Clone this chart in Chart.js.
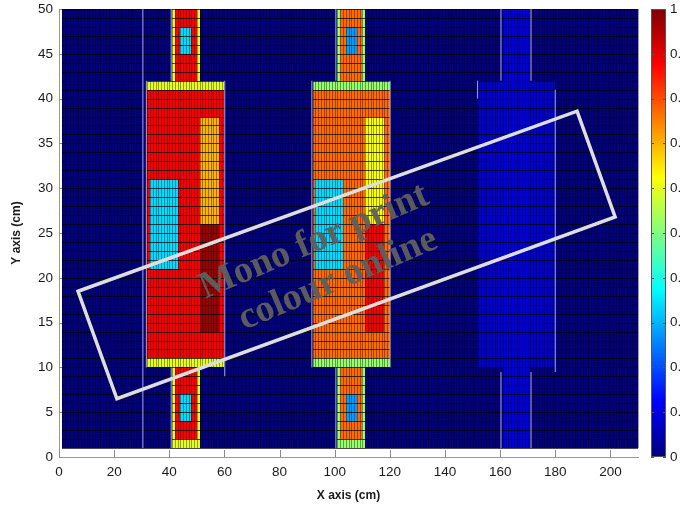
<!DOCTYPE html>
<html>
<head>
<meta charset="utf-8">
<script src="https://cdn.jsdelivr.net/npm/chart.js@4.4.0/dist/chart.umd.min.js"></script>
<style>
    html, body { margin: 0; padding: 0; background: #fff; }
    #wrap { width: 681px; height: 509px; }
</style>
</head>
<body>
<div id="wrap"><canvas id="chart_canvas" width="681" height="509"></canvas></div>
<script>
const xTicks = [0, 20, 40, 60, 80, 100, 120, 140, 160, 180, 200];
const yTicks = [0, 5, 10, 15, 20, 25, 30, 35, 40, 45, 50];
const cbTicks = [0, 0.1, 0.2, 0.3, 0.4, 0.5, 0.6, 0.7, 0.8, 0.9, 1];
const cbLabels = ['0', '0.1', '0.2', '0.3', '0.4', '0.5', '0.6', '0.7', '0.8', '0.9', '1'];

// meshed field, 1 cm cells, value 0 everywhere else
const fieldX = [1, 210];
const fieldY = [1, 50];
const fieldBase = 0;

// [x0, x1, y0, y1, value] - later rects paint over earlier ones
const column1 = [
    [41, 51, 1, 50, 0.6], [42, 50, 2, 50, 0.88],
    [32, 60, 10, 42, 0.6], [32, 60, 11, 41, 0.88],
    [33, 43, 21, 31, 0.34], [51, 58, 26, 38, 0.7], [51, 58, 14, 26, 0.97],
    [44, 48, 45, 48, 0.34], [44, 48, 4, 7, 0.34]
];
const column2 = [
    [101, 111, 1, 50, 0.52], [102, 110, 2, 50, 0.77],
    [92, 120, 10, 42, 0.52], [92, 120, 11, 41, 0.77],
    [93, 103, 21, 31, 0.34], [111, 118, 26, 38, 0.62], [111, 118, 14, 26, 0.88],
    [104, 108, 45, 48, 0.28], [104, 108, 4, 7, 0.28]
];
const column3 = [
    [161, 171, 1, 50, 0.09],
    [152, 180, 10, 42, 0.08], [161, 171, 10, 42, 0.09]
];

// faint mesh outlines [x0, y0, x1, y1]
const outlines = [
    [30.4, 1, 30.4, 50],
    [40.7, 42, 40.7, 50], [40.7, 1, 40.7, 10], [31.7, 10, 31.7, 42], [60.1, 9, 60.1, 42],
    [100.4, 42, 100.4, 50], [100.4, 1, 100.4, 10], [91.7, 10, 91.7, 42], [120.1, 10, 120.1, 42],
    [160.3, 42, 160.3, 50], [171.2, 42, 171.2, 50], [160.3, 1, 160.3, 9.5], [171.2, 1, 171.2, 9.5],
    [180, 9.5, 180, 41], [151.8, 40, 151.8, 42]
];

// watermark box corners and text anchors, in axis units
const stampBox = [[6.9, 18.5], [187.9, 38.6], [201.7, 26.8], [21.0, 6.5]];
const stampLines = ['Mono for print', 'colour online'];
const stampAnchors = [[92.5, 24.0], [101.2, 19.8]];

function clamp(v) {
    return Math.max(0, Math.min(1, v));
}

function jet(v) {
    const r = clamp(Math.min(4 * v - 1.5, -4 * v + 4.5));
    const g = clamp(Math.min(4 * v - 0.5, -4 * v + 3.5));
    const b = clamp(Math.min(4 * v + 0.5, -4 * v + 2.5));
    return `rgb(${Math.round(r * 255)}, ${Math.round(g * 255)}, ${Math.round(b * 255)})`;
}

function fillCells(ctx, xs, ys, rect) {
    const l = Math.round(xs.getPixelForValue(rect[0]));
    const r = Math.round(xs.getPixelForValue(rect[1]));
    const t = Math.round(ys.getPixelForValue(rect[3]));
    const b = Math.round(ys.getPixelForValue(rect[2]));
    ctx.fillStyle = jet(rect[4]);
    ctx.fillRect(l, t, r - l, b - t);
}

// vertical axes: no extra room above/below the plot for their labels
function noEdgePadding(s) {
    s.paddingTop = 0;
    s.paddingBottom = 0;
}

const heatmapPlugin = {
    id: 'heatmap',
    beforeDatasetsDraw(chart) {
        const ctx = chart.ctx;
        const xs = chart.scales.x;
        const ys = chart.scales.y;
        ctx.save();

        fillCells(ctx, xs, ys, [fieldX[0], fieldX[1], fieldY[0], fieldY[1], fieldBase]);
        [column1, column2, column3].forEach(col => {
            col.forEach(rect => fillCells(ctx, xs, ys, rect));
        });

        const top = Math.round(ys.getPixelForValue(fieldY[1]));
        const bottom = Math.round(ys.getPixelForValue(fieldY[0]));
        const left = Math.round(xs.getPixelForValue(fieldX[0]));
        const right = Math.round(xs.getPixelForValue(fieldX[1]));

        // cell edges
        ctx.lineWidth = 1;
        ctx.strokeStyle = 'rgba(0, 0, 0, 0.38)';
        ctx.beginPath();
        for (let x = fieldX[0]; x <= fieldX[1]; x++) {
            const px = Math.round(xs.getPixelForValue(x)) + 0.5;
            ctx.moveTo(px, top);
            ctx.lineTo(px, bottom);
        }
        ctx.stroke();
        ctx.strokeStyle = 'rgba(0, 0, 0, 0.7)';
        ctx.beginPath();
        for (let y = fieldY[0]; y <= fieldY[1]; y++) {
            const py = Math.round(ys.getPixelForValue(y)) + 0.5;
            ctx.moveTo(left, py);
            ctx.lineTo(right, py);
        }
        ctx.stroke();

        ctx.strokeStyle = 'rgba(190, 190, 240, 0.75)';
        ctx.lineWidth = 1.2;
        outlines.forEach(seg => {
            ctx.beginPath();
            ctx.moveTo(xs.getPixelForValue(seg[0]), ys.getPixelForValue(seg[1]));
            ctx.lineTo(xs.getPixelForValue(seg[2]), ys.getPixelForValue(seg[3]));
            ctx.stroke();
        });
        ctx.restore();
    },
    afterDraw(chart) {
        const ctx = chart.ctx;
        const xs = chart.scales.x;
        const ys = chart.scales.y;
        const cb = chart.scales.cb;
        ctx.save();

        // inward tick marks
        ctx.strokeStyle = '#8a8a8a';
        ctx.lineWidth = 1;
        ctx.beginPath();
        xTicks.forEach(v => {
            const px = Math.round(xs.getPixelForValue(v)) + 0.5;
            ctx.moveTo(px, ys.bottom);
            ctx.lineTo(px, ys.bottom - 7);
        });
        yTicks.forEach(v => {
            const py = Math.round(ys.getPixelForValue(v)) + 0.5;
            ctx.moveTo(xs.left, py);
            ctx.lineTo(xs.left + 3, py);
        });
        ctx.stroke();

        // colour bar
        const barL = cb.left + 13;
        const barW = 15;
        const barT = cb.getPixelForValue(1);
        const barB = cb.getPixelForValue(0);
        const grad = ctx.createLinearGradient(0, barB, 0, barT);
        [0, 0.125, 0.375, 0.625, 0.875, 1].forEach(s => grad.addColorStop(s, jet(s)));
        ctx.fillStyle = grad;
        ctx.fillRect(barL, barT, barW, barB - barT);
        ctx.strokeStyle = '#555';
        ctx.strokeRect(barL + 0.5, barT + 0.5, barW - 1, barB - barT - 1);
        ctx.beginPath();
        cbTicks.forEach(v => {
            const py = Math.round(cb.getPixelForValue(v)) + 0.5;
            ctx.moveTo(barL, py);
            ctx.lineTo(barL + 3, py);
            ctx.moveTo(barL + barW, py);
            ctx.lineTo(barL + barW - 3, py);
        });
        ctx.stroke();

        // watermark
        ctx.strokeStyle = '#dedede';
        ctx.lineWidth = 3.5;
        ctx.beginPath();
        stampBox.forEach((c, i) => {
            const px = xs.getPixelForValue(c[0]);
            const py = ys.getPixelForValue(c[1]);
            if (i == 0) ctx.moveTo(px, py); else ctx.lineTo(px, py);
        });
        ctx.closePath();
        ctx.stroke();

        ctx.fillStyle = 'rgba(95, 95, 95, 0.95)';
        ctx.font = 'bold 38px "Liberation Serif"';
        ctx.textAlign = 'center';
        ctx.textBaseline = 'middle';
        stampLines.forEach((line, i) => {
            ctx.save();
            ctx.translate(xs.getPixelForValue(stampAnchors[i][0]), ys.getPixelForValue(stampAnchors[i][1]));
            ctx.rotate(-23 * Math.PI / 180);
            ctx.fillText(line, 0, 0);
            ctx.restore();
        });
        ctx.restore();
    }
};

const tickFont = { family: 'Liberation Sans', size: 13.5 };
const titleFont = { family: 'Liberation Sans', size: 12, weight: 'bold' };

const ctx = document.getElementById('chart_canvas').getContext('2d');
const chart = new Chart(ctx, {
    type: 'scatter',
    data: { datasets: [{ data: [] }] },
    options: {
        responsive: false,
        animation: false,
        devicePixelRatio: 1,
        layout: { padding: { top: 9, left: 0, right: 0, bottom: 0 } },
        plugins: { legend: { display: false }, tooltip: { enabled: false } },
        scales: {
            x: {
                type: 'linear', min: 0, max: 210,
                afterBuildTicks: s => { s.ticks = xTicks.map(v => ({ value: v })); },
                afterFit: s => { s.height = 52; },
                grid: { display: false, drawTicks: false },
                border: { display: true, color: '#9a9a9a', width: 1 },
                ticks: { color: '#1a1a1a', font: tickFont, padding: 7, maxRotation: 0 },
                title: { display: true, text: 'X axis (cm)', color: '#1a1a1a', font: titleFont, padding: { top: 4, bottom: 6 } }
            },
            y: {
                type: 'linear', min: 0, max: 50,
                afterBuildTicks: s => { s.ticks = yTicks.map(v => ({ value: v })); },
                afterFit: s => { s.width = 59; noEdgePadding(s); },
                grid: { display: false, drawTicks: false },
                border: { display: true, color: '#9a9a9a', width: 1 },
                ticks: { color: '#1a1a1a', font: tickFont, padding: 6 },
                title: { display: true, text: 'Y axis (cm)', color: '#1a1a1a', font: titleFont, padding: { top: 9, bottom: 0 } }
            },
            cb: {
                type: 'linear', position: 'right', min: 0, max: 1,
                afterBuildTicks: s => { s.ticks = cbTicks.map(v => ({ value: v })); },
                afterFit: s => { s.width = 43; noEdgePadding(s); },
                grid: { display: false, drawTicks: false },
                border: { display: false },
                ticks: {
                    color: '#1a1a1a', font: tickFont, padding: 32,
                    callback: (v, i) => cbLabels[i]
                }
            }
        }
    },
    plugins: [heatmapPlugin]
});
</script>
</body>
</html>
